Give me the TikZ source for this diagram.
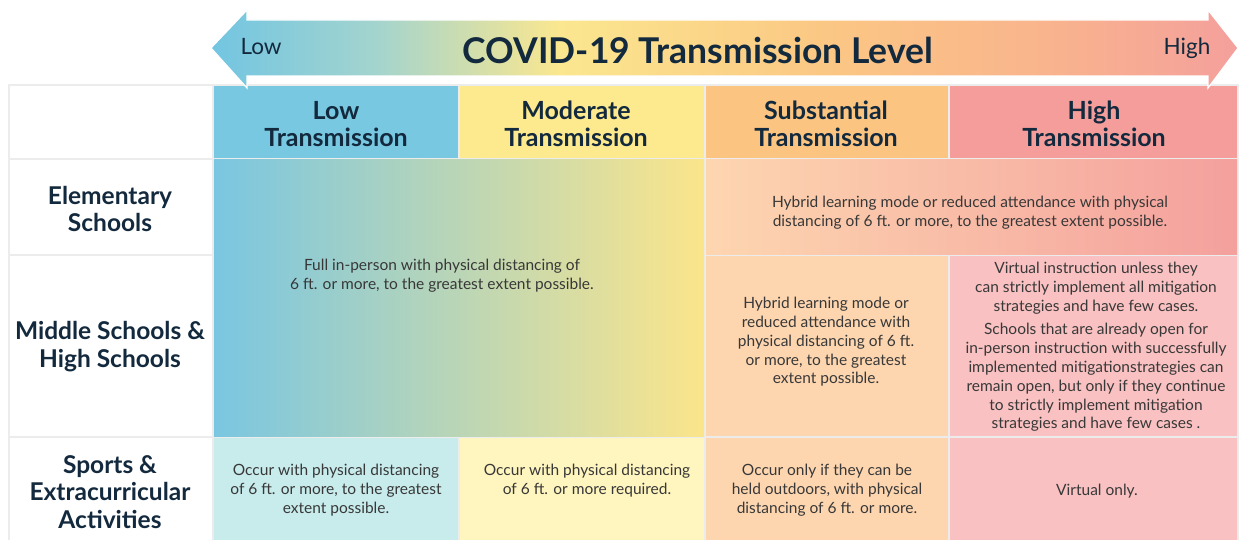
\documentclass[tikz,border=0pt]{standalone}
\usepackage{fontspec}
\setmainfont{Lato}
\definecolor{lowc}{HTML}{78C8E2}
\definecolor{modc}{HTML}{FDE98E}
\definecolor{subc}{HTML}{FBC481}
\definecolor{highc}{HTML}{F49D9B}
\definecolor{peach}{HTML}{FDD6B0}
\definecolor{pinkl}{HTML}{F9C1C1}
\definecolor{cyanl}{HTML}{C8EBEC}
\definecolor{yell}{HTML}{FFF5BF}
\definecolor{navy}{HTML}{13293D}
\definecolor{textc}{HTML}{383838}
\definecolor{gapc}{HTML}{ECECEC}
\definecolor{fullL}{HTML}{7AC6E1}
\definecolor{fullR}{HTML}{FBE58B}
\definecolor{hybR}{HTML}{F4A09D}
\definecolor{a0}{HTML}{72C5E2}
\definecolor{a1}{HTML}{A3D4CE}
\definecolor{a2}{HTML}{FBE78F}
\definecolor{a3}{HTML}{FBC784}
\definecolor{a4}{HTML}{F9B58C}
\definecolor{a5}{HTML}{F4A09C}
\pgfdeclarehorizontalshading{arrowshade}{100bp}{color(0bp)=(a0); color(25bp)=(a0); color(33bp)=(a1); color(42bp)=(a2); color(55bp)=(a3); color(65bp)=(a4); color(75bp)=(a5); color(100bp)=(a5)}
\tikzset{
  cellbox/.style={draw=none, inner sep=0pt, outer sep=0pt, anchor=north west, align=center},
  hdrfont/.style={font=\fontsize{25}{26.5}\selectfont\bfseries, text=navy},
  rowfont/.style={font=\fontsize{24.5}{27.8}\selectfont\bfseries, text=navy},
  bodyfont/.style={font=\fontsize{15.5}{18.8}\selectfont, text=textc, align=center, inner sep=0pt},
  hdrtext/.style={hdrfont, align=center, inner sep=0pt},
  rowtext/.style={rowfont, align=center, inner sep=0pt},
}
\begin{document}
\begin{tikzpicture}[x=1pt,y=-1pt]
\useasboundingbox (0,0) rectangle (1239,540);
% table background (gap lines)
\fill[gapc] (8,84) rectangle (1239,540);
% label column
\node[cellbox, fill=white, minimum width=202pt, minimum height=72pt] (corner) at (10,86) {};
\node[cellbox, fill=white, minimum width=202pt, minimum height=94pt] (relem) at (10,160) {};
\node[rowtext] (relemt) at (110,209) {Elementary\\Schools};
\node[cellbox, fill=white, minimum width=202pt, minimum height=180pt] (rmid) at (10,256) {};
\node[rowtext] (rmidt) at (110,347) {Middle Schools \&\\High Schools};
\node[cellbox, fill=white, minimum width=202pt, minimum height=102pt] (rsport) at (10,438) {};
\node[rowtext] (rsportt) at (110,492) {Sports \&\\Extracurricular\\Activities};
% headers
\node[cellbox, fill=lowc, minimum width=244pt, minimum height=72pt] (hlow) at (214,86) {};
\node[hdrtext] (hlowt) at (336,124) {Low\\Transmission};
\node[cellbox, fill=modc, minimum width=244pt, minimum height=72pt] (hmod) at (460,86) {};
\node[hdrtext] (hmodt) at (576,124) {Moderate\\Transmission};
\node[cellbox, fill=subc, minimum width=242pt, minimum height=72pt] (hsub) at (706,86) {};
\node[hdrtext] (hsubt) at (826,124) {Substantial\\Transmission};
\node[cellbox, fill=highc, minimum width=287pt, minimum height=72pt] (hhigh) at (950,86) {};
\node[hdrtext] (hhight) at (1094,124) {High\\Transmission};
% body
\node[cellbox, left color=fullL, right color=fullR, minimum width=490pt, minimum height=276pt] (full) at (214,160) {};
\node[bodyfont] (fullt) at (442,276) {Full in-person with physical distancing of\\6 ft. or more, to the greatest extent possible.};
\node[cellbox, left color=peach, right color=hybR, minimum width=531pt, minimum height=94pt] (hyb1) at (706,160) {};
\node[bodyfont] (hyb1t) at (970,213) {Hybrid learning mode or reduced attendance with physical\\distancing of 6 ft. or more, to the greatest extent possible.};
\node[cellbox, fill=peach, minimum width=242pt, minimum height=180pt] (hyb2) at (706,256) {};
\node[bodyfont] (hyb2t) at (826,342) {Hybrid learning mode or\\reduced attendance with\\physical distancing of 6 ft.\\or more, to the greatest\\extent possible.};
\node[cellbox, fill=pinkl, minimum width=287pt, minimum height=180pt] (virt) at (950,256) {};
\node[bodyfont] (virtt) at (1096,347) {Virtual instruction unless they\\can strictly implement all mitigation\\strategies and have few cases.\\[5pt]Schools that are already open for\\in-person instruction with successfully\\implemented mitigationstrategies can\\remain open, but only if they continue\\to strictly implement mitigation\\strategies and have few cases .};
% sports row
\node[cellbox, fill=cyanl, minimum width=244pt, minimum height=102pt] (slow) at (214,438) {};
\node[bodyfont] (slowt) at (336,490) {Occur with physical distancing\\of 6 ft. or more, to the greatest\\extent possible.};
\node[cellbox, fill=yell, minimum width=244pt, minimum height=102pt] (smod) at (460,438) {};
\node[bodyfont] (smodt) at (587,481) {Occur with physical distancing\\of 6 ft. or more required.};
\node[cellbox, fill=peach, minimum width=242pt, minimum height=102pt] (ssub) at (706,438) {};
\node[bodyfont] (ssubt) at (827,490) {Occur only if they can be\\held outdoors, with physical\\distancing of 6 ft. or more.};
\node[cellbox, fill=pinkl, minimum width=287pt, minimum height=102pt] (shigh) at (950,438) {};
\node[bodyfont] (shight) at (1097,491) {Virtual only.};
% arrow
\path[shading=arrowshade, draw=white, line width=1.2pt, line join=miter]
  (211,48) -- (247,10) -- (247,20) -- (1208,20) -- (1208,10) -- (1238,48)
  -- (1208,88) -- (1208,76) -- (247,76) -- (247,88) -- cycle;
\node[font=\fontsize{35.5}{40}\selectfont\bfseries, text=navy] (title) at (698,50) {COVID-19 Transmission Level};
\node[font=\fontsize{22.5}{26}\selectfont, text=navy] (low) at (261,47) {Low};
\node[font=\fontsize{22.5}{26}\selectfont, text=navy] (high) at (1187,48) {High};
\end{tikzpicture}
\end{document}
